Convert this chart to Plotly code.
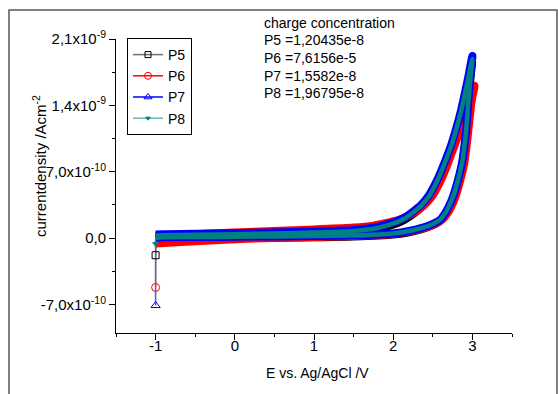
import plotly.graph_objects as go

SCALE = 1e-10  # current values below are in units of 1e-10 A/cm^2

# ---- data ----
# each series: first point = initial spike at -1 V, then forward sweep to ~3 V, then reverse sweep back to -1 V
P5_E = [-1.0, -1.0, -0.9, -0.5, 0.0, 0.5, 1.0, 1.5, 2.0, 2.2, 2.35, 2.5, 2.6, 2.65, 2.7, 2.76, 2.82, 2.87, 2.92, 2.95, 2.98, 3.0,
        2.97, 2.946, 2.9, 2.854, 2.8, 2.735, 2.65, 2.57, 2.45, 2.35, 2.25, 2.15, 2.05, 1.9, 1.75, 1.5, 1.0, 0.5, 0.0, -0.5, -0.9, -1.0]
P5_J = [-1.8, -0.1, -0.05, -0.03, 0.0, 0.03, 0.07, 0.15, 0.35, 0.6, 0.9, 1.35, 1.85, 2.4, 3.1, 4.3, 6.0, 7.8, 11.0, 14.2, 17.0, 18.6,
        17.5, 16.5, 14.8, 13.1, 11.4, 9.6, 7.7, 6.1, 4.2, 3.2, 2.5, 1.95, 1.55, 1.15, 0.85, 0.6, 0.45, 0.38, 0.3, 0.25, 0.2, 0.18]

P6_E = [-1.0, -1.0, -0.9, -0.5, 0.0, 0.5, 1.0, 1.5, 2.0, 2.23, 2.38, 2.53, 2.63, 2.68, 2.73, 2.79, 2.85, 2.9, 2.95, 2.98, 3.0, 3.03,
        3.0, 2.97, 2.93, 2.88, 2.83, 2.77, 2.685, 2.605, 2.485, 2.385, 2.285, 2.15, 2.05, 1.9, 1.75, 1.5, 1.0, 0.5, 0.0, -0.5, -0.9, -1.0]
P6_J = [-5.2, -0.6, -0.55, -0.35, -0.15, 0.0, 0.1, 0.2, 0.4, 0.72, 1.0, 1.45, 2.0, 2.5, 3.2, 4.4, 6.1, 7.9, 11.2, 13.6, 14.8, 16.1,
        15.7, 15.0, 13.8, 12.5, 11.0, 9.6, 7.7, 6.1, 4.3, 3.4, 2.75, 2.2, 1.9, 1.6, 1.35, 1.15, 0.95, 0.78, 0.62, 0.45, 0.32, 0.28]

P7_E = [-1.0, -1.0, -0.9, -0.5, 0.0, 0.5, 1.0, 1.5, 2.0, 2.2, 2.35, 2.5, 2.6, 2.65, 2.7, 2.76, 2.82, 2.87, 2.92, 2.95, 2.98, 3.0,
        2.97, 2.946, 2.9, 2.854, 2.8, 2.735, 2.65, 2.57, 2.45, 2.35, 2.25, 2.15, 2.05, 1.9, 1.75, 1.5, 1.0, 0.5, 0.0, -0.5, -0.9, -1.0]
P7_J = [-7.1, 0.05, 0.1, 0.12, 0.15, 0.18, 0.22, 0.3, 0.5, 0.75, 1.05, 1.5, 2.0, 2.55, 3.3, 4.5, 6.2, 8.0, 11.3, 14.6, 17.6, 19.2,
        18.0, 16.9, 15.1, 13.4, 11.7, 9.9, 8.0, 6.4, 4.5, 3.5, 2.8, 2.2, 1.8, 1.4, 1.1, 0.85, 0.7, 0.6, 0.52, 0.46, 0.4, 0.38]

P8_E = [-1.0, -1.0, -0.9, -0.5, 0.0, 0.5, 1.0, 1.5, 2.0, 2.2, 2.35, 2.5, 2.6, 2.65, 2.7, 2.76, 2.82, 2.87, 2.92, 2.95, 2.98, 3.0,
        2.97, 2.946, 2.9, 2.854, 2.8, 2.735, 2.65, 2.57, 2.45, 2.35, 2.25, 2.15, 2.05, 1.9, 1.75, 1.5, 1.0, 0.5, 0.0, -0.5, -0.9, -1.0]
P8_J = [-0.6, 0.05, 0.1, 0.12, 0.15, 0.18, 0.22, 0.3, 0.5, 0.75, 1.05, 1.5, 2.0, 2.55, 3.3, 4.5, 6.2, 8.0, 11.3, 14.5, 17.3, 18.9,
        17.8, 16.8, 15.0, 13.3, 11.6, 9.8, 7.9, 6.3, 4.4, 3.4, 2.7, 2.1, 1.7, 1.3, 1.0, 0.75, 0.6, 0.5, 0.42, 0.36, 0.3, 0.28]

NAMES = ["P5", "P6", "P7", "P8"]
CONC_TEXT = ["charge concentration", "P5 =1,20435e-8", "P6 =7,6156e-5", "P7 =1,5582e-8", "P8 =1,96795e-8"]

X_TICKS = [-1, 0, 1, 2, 3]
Y_TICKVALS = [-7e-10, 0.0, 7e-10, 1.4e-9, 2.1e-9]
Y_TICKTEXT = ["-7,0x10<sup>-10</sup>", "0,0", "7,0x10<sup>-10</sup>", "1,4x10<sup>-9</sup>", "2,1x10<sup>-9</sup>"]

FONT = "Liberation Sans, Arial, sans-serif"

series = [
    dict(name=NAMES[0], E=P5_E, J=P5_J, band="#000000", band_w=7.5, leg_line="#707070",
         sym="square-open", msize=7, mcol="#000000", spike_w=1.2),
    dict(name=NAMES[1], E=P6_E, J=P6_J, band="#ff0000", band_w=7.5, leg_line="#ff0000",
         sym="circle-open", msize=8, mcol="#ff0000", spike_w=1.2),
    dict(name=NAMES[2], E=P7_E, J=P7_J, band="#0000ff", band_w=8, leg_line="#0000ff",
         sym="triangle-up-open", msize=8, mcol="#0000ff", spike_w=1.6),
    dict(name=NAMES[3], E=P8_E, J=P8_J, band="#008080", band_w=4.5, leg_line="#6ab8b0",
         sym="triangle-down", msize=5, mcol="#008080", spike_w=1.0),
]

fig = go.Figure()

for s in series:
    J = [v * SCALE for v in s["J"]]
    E = s["E"]
    # main loop drawn as dense band
    fig.add_trace(go.Scatter(x=E[1:], y=J[1:], mode="lines", showlegend=False, hoverinfo="skip",
                             line=dict(color=s["band"], width=s["band_w"], shape="spline", smoothing=0.8)))
for s in series:
    J = [v * SCALE for v in s["J"]]
    E = s["E"]
    # initial spike segment
    col = "#4a6fb0" if s["name"] in ("P7", "P8") else s["band"]
    fig.add_trace(go.Scatter(x=E[:2], y=J[:2], mode="lines", showlegend=False, hoverinfo="skip",
                             line=dict(color=col, width=s["spike_w"])))
for s in series:
    J = [v * SCALE for v in s["J"]]
    E = s["E"]
    fig.add_trace(go.Scatter(x=E[:1], y=J[:1], mode="markers", showlegend=False, hoverinfo="skip",
                             marker=dict(symbol=s["sym"], size=s["msize"], color=s["mcol"],
                                         line=dict(width=1, color=s["mcol"]))))
# legend entries
for s in series:
    fig.add_trace(go.Scatter(x=[None], y=[None], mode="lines+markers", name=s["name"],
                             line=dict(color=s["leg_line"], width=1.5),
                             marker=dict(symbol=s["sym"], size=s["msize"] - 1, color=s["mcol"],
                                         line=dict(width=1, color=s["mcol"]))))

# plot area: x 116..512 px, y 39..333 px
W, H = 558, 394
L, R, T, B = 116, 46, 39, 61
pw, ph = W - L - R, H - T - B


def px(xp):
    return (xp - L) / pw


def py(yp):
    return (H - B - yp) / ph


annotations = []
for txt, yy in zip(CONC_TEXT, [23.3, 40.5, 58.0, 75.8, 93.3]):
    annotations.append(dict(text=txt, x=px(262), y=py(yy), xref="paper", yref="paper",
                            xanchor="left", yanchor="middle", showarrow=False,
                            font=dict(size=14, color="#000000", family=FONT)))
annotations.append(dict(text="currentdensity /Acm<sup>-2</sup>", x=px(39), y=py(166), xref="paper", yref="paper",
                        textangle=-90, xanchor="center", yanchor="middle", showarrow=False,
                        font=dict(size=15, color="#000000", family=FONT)))
annotations.append(dict(text="E vs. Ag/AgCl /V", x=px(317), y=py(373), xref="paper", yref="paper",
                        xanchor="center", yanchor="middle", showarrow=False,
                        font=dict(size=14, color="#000000", family=FONT)))

fig.update_layout(
    width=W, height=H,
    margin=dict(l=L, r=R, t=T, b=B, pad=0),
    paper_bgcolor="white", plot_bgcolor="white",
    font=dict(family=FONT, size=14, color="#000000"),
    showlegend=True,
    legend=dict(x=px(127), y=py(38), xanchor="left", yanchor="top",
                bordercolor="#000000", borderwidth=1, bgcolor="white",
                font=dict(size=14, family=FONT), tracegroupgap=0, itemwidth=30),
    annotations=annotations,
    shapes=[dict(type="rect", xref="paper", yref="paper", x0=px(9), x1=px(557), y0=py(425), y1=py(10),
                 line=dict(color="#555555", width=1.5), fillcolor="rgba(0,0,0,0)", layer="below")],
    xaxis=dict(range=[-1.5, 3.5], tickvals=X_TICKS, ticktext=[str(v) for v in X_TICKS],
               showline=True, linecolor="#000000", linewidth=1, ticks="outside", ticklen=6, tickwidth=1,
               tickcolor="#000000", showgrid=False, zeroline=False, tickfont=dict(size=15, family=FONT),
               ticklabelstandoff=-7,
               minor=dict(ticks="outside", ticklen=3, tickwidth=1, tickcolor="#000000", dtick=0.5, tick0=-1.5,
                          showgrid=False)),
    yaxis=dict(range=[-1.0e-9, 2.1e-9], tickvals=Y_TICKVALS, ticktext=Y_TICKTEXT,
               showline=True, linecolor="#000000", linewidth=1, ticks="outside", ticklen=6, tickwidth=1,
               tickcolor="#000000", showgrid=False, zeroline=False, tickfont=dict(size=15, family=FONT),
               minor=dict(ticks="outside", ticklen=3, tickwidth=1, tickcolor="#000000", dtick=3.5e-10, tick0=0,
                          showgrid=False)),
)

fig.write_html("out.html")
